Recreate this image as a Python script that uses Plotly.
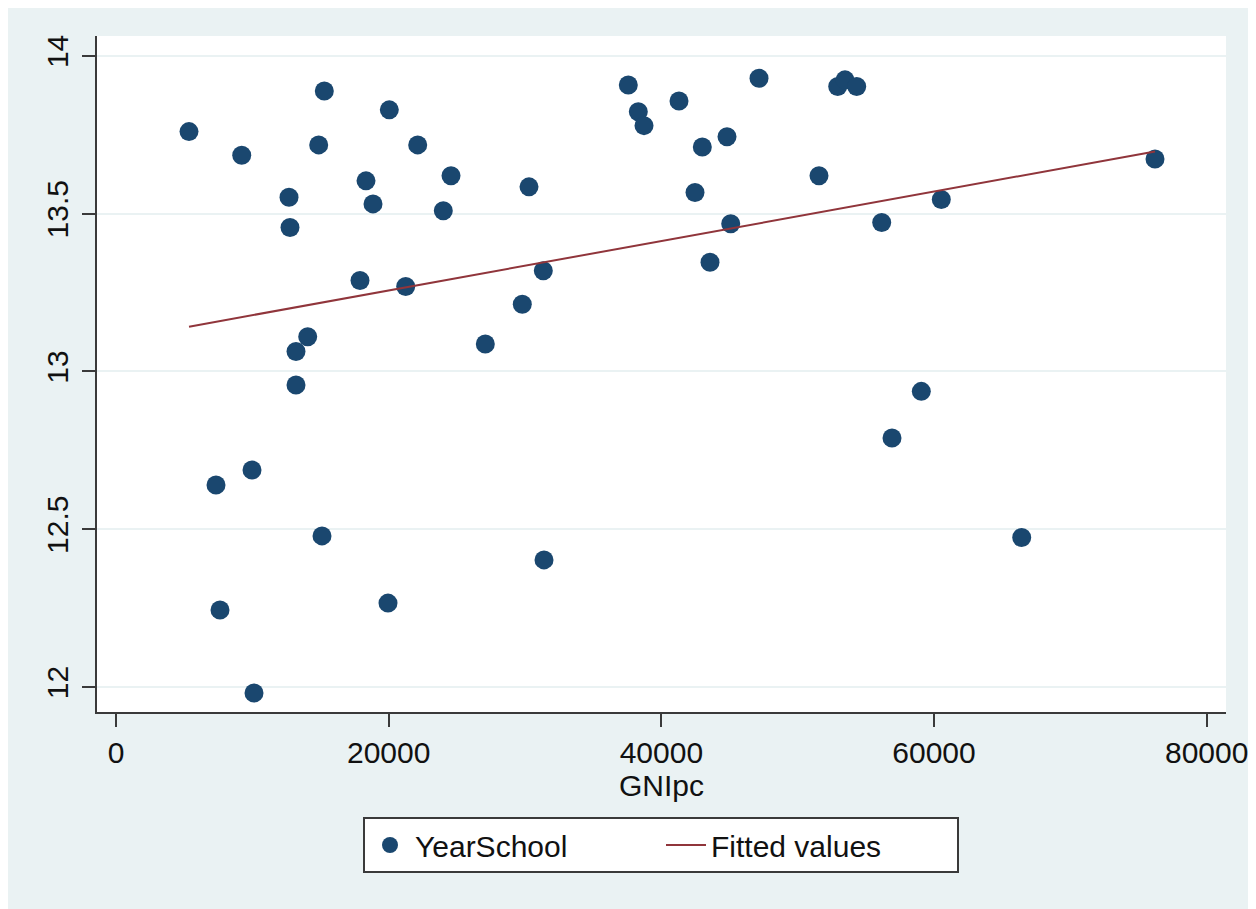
import plotly.graph_objects as go

# GNI per capita (x) and mean years of schooling (y)
gni_pc = [5354, 9220, 12689, 12762, 14867, 15278, 18337, 18850, 20046, 22129,
          24571, 24006, 17896, 21248, 14060, 13202, 13202, 7335, 9975, 7628,
          15109, 10122, 19950, 27087, 29800, 30292, 31341, 31392, 37575, 38309,
          38727, 41294, 42468, 43003, 43568, 44815, 45086, 47162, 52934, 53470,
          54327, 51562, 56161, 60532, 56916, 59066, 66430, 76207]
year_school = [13.760, 13.685, 13.552, 13.456, 13.718, 13.889, 13.604, 13.531, 13.829, 13.718,
               13.620, 13.509, 13.288, 13.269, 13.110, 13.063, 12.957, 12.640, 12.688, 12.244,
               12.479, 11.981, 12.266, 13.087, 13.213, 13.585, 13.319, 12.403, 13.908, 13.823,
               13.779, 13.857, 13.567, 13.711, 13.346, 13.744, 13.468, 13.929, 13.903, 13.924,
               13.903, 13.620, 13.472, 13.545, 12.789, 12.937, 12.474, 13.673]

# Fitted values line (endpoints)
fit_x = [5354, 76207]
fit_y = [13.142, 13.697]

x_ticks = [0, 20000, 40000, 60000, 80000]
x_ticktext = ["0", "20000", "40000", "60000", "80000"]
y_ticks = [12, 12.5, 13, 13.5, 14]
y_ticktext = ["12", "12.5", "13", "13.5", "14"]

NAVY = "#1A476F"
MAROON = "#90353B"
BG = "#EAF2F3"
AXIS = "#3a3a3a"
FONT = "Liberation Sans, Arial, sans-serif"

fig = go.Figure()
fig.add_trace(go.Scatter(
    x=gni_pc, y=year_school, mode="markers", name="YearSchool",
    marker=dict(color=NAVY, size=19, line=dict(width=0)),
))
fig.add_trace(go.Scatter(
    x=fit_x, y=fit_y, mode="lines", name="Fitted values",
    line=dict(color=MAROON, width=2),
))

fig.update_layout(
    width=1248, height=901,
    margin=dict(l=89, r=30, t=28, b=197),
    paper_bgcolor=BG,
    plot_bgcolor="white",
    font=dict(family=FONT, size=30, color="#111111"),
    legend=dict(
        orientation="h",
        x=(363 - 97) / 1129, y=-(817 - 712) / 676, xanchor="left", yanchor="top",
        bgcolor="white", bordercolor=AXIS, borderwidth=2,
        font=dict(family=FONT, size=30, color="#111111"),
        entrywidth=241, itemwidth=40,
    ),
    xaxis=dict(
        range=[-1394, 81414],
        tickvals=x_ticks, ticktext=x_ticktext,
        showgrid=False, zeroline=False, automargin=False,
        showline=True, linecolor=AXIS, linewidth=2,
        ticks="outside", ticklen=13, tickwidth=2, tickcolor=AXIS,
        ticklabelstandoff=0, ticklabeloverflow="allow",
        title=dict(text="GNIpc", standoff=0, font=dict(size=30)),
    ),
    yaxis=dict(
        range=[11.921, 14.063],
        tickvals=y_ticks, ticktext=y_ticktext,
        tickangle=-90, automargin=False,
        showgrid=True, gridcolor=BG, gridwidth=2,
        zeroline=False,
        showline=True, linecolor=AXIS, linewidth=2,
        ticks="outside", ticklen=13, tickwidth=2, tickcolor=AXIS,
        ticklabelstandoff=2, ticklabeloverflow="allow",
    ),
)

fig.write_html("out.html")
